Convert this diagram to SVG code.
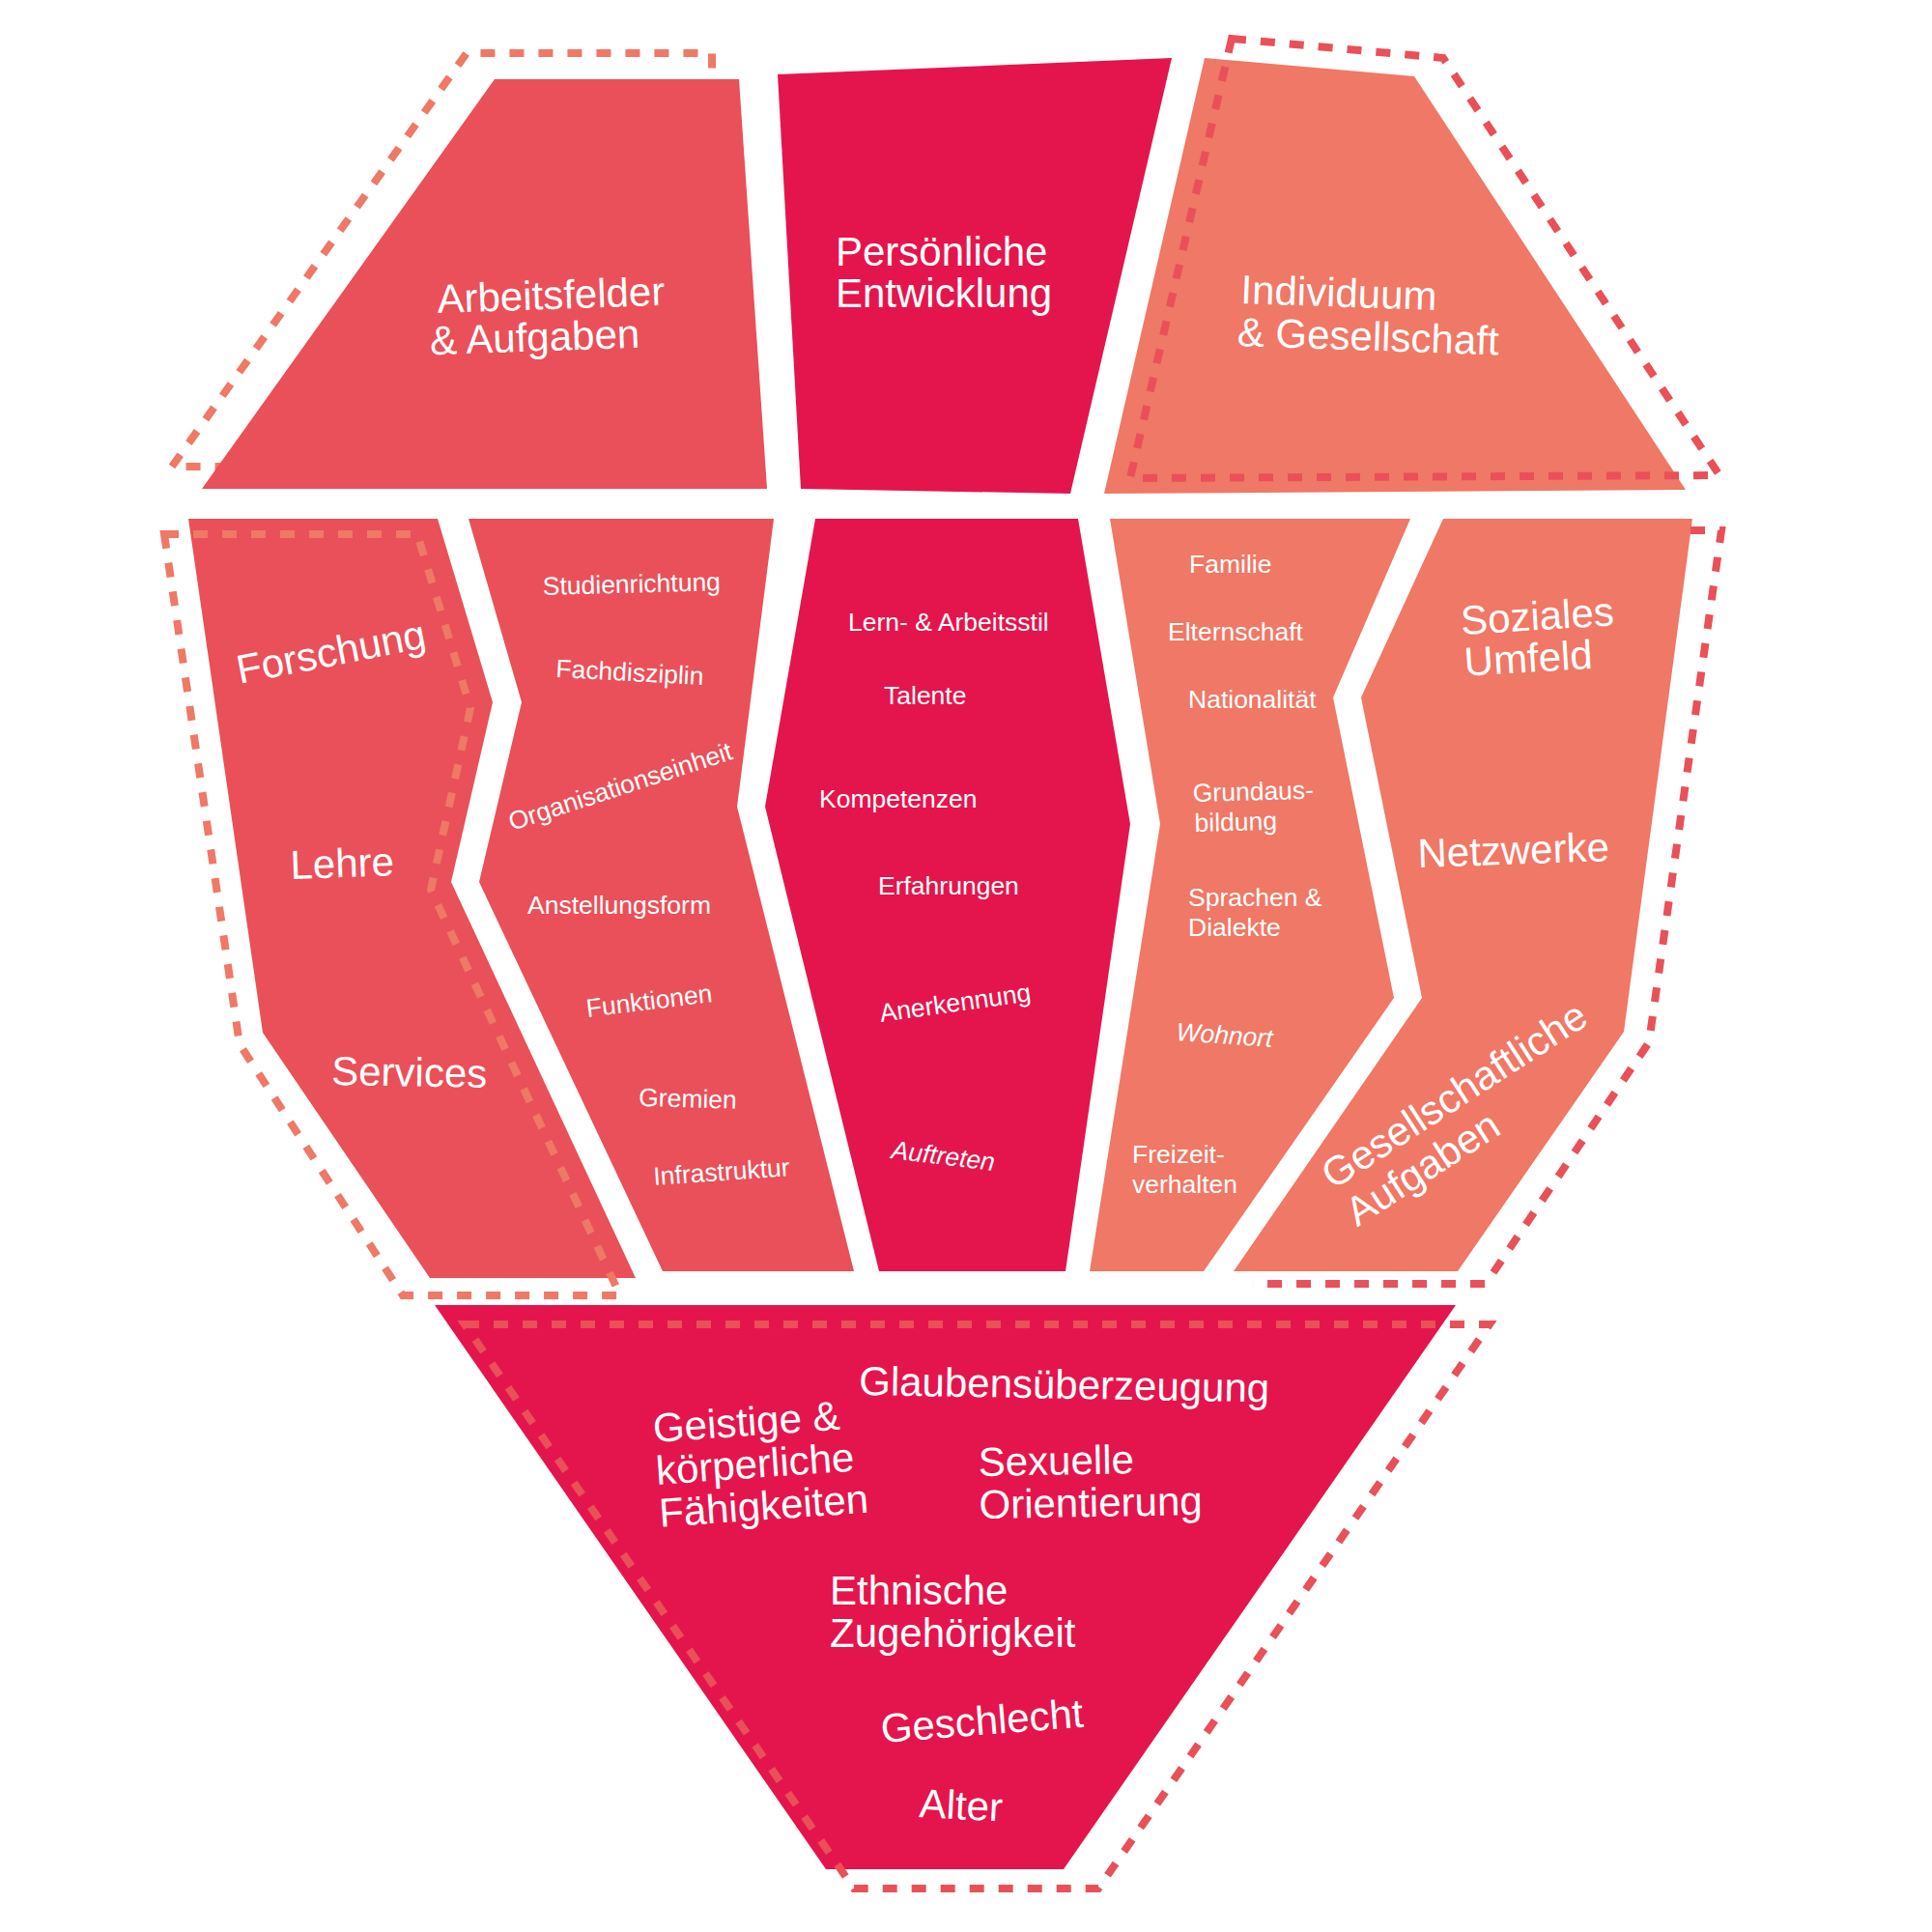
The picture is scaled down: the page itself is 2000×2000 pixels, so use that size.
<svg xmlns="http://www.w3.org/2000/svg" width="2000" height="2000" viewBox="0 0 2000 2000">
<style>
.c1{fill:#E95059}
.c2{fill:#E4154C}
.c3{fill:#EF7866}
.dash{fill:none;stroke-width:8;stroke-dasharray:15 15;stroke-linejoin:miter}
.ds{stroke:#EF7866}
.dr{stroke:#E95059}
text{font-family:"Liberation Sans",Arial,Helvetica,sans-serif;fill:#ffffff}
.big{font-size:42px}
.sm{font-size:26.5px}
.it{font-style:italic}
</style>
<rect width="2000" height="2000" fill="#ffffff"/>
<g id="outlines-under">
<path class="dash ds" d="M178,483 L483,55 L737,55 L740,483 Z"/>
</g>
<g id="node-arbeitsfelder">
<polygon class="c1" points="512,82 765,82 794,506 209,506"/>
<text class="big" transform="translate(453,324) rotate(-2)"><tspan x="0" y="0">Arbeitsfelder</tspan><tspan x="-9" dy="43">&amp; Aufgaben</tspan></text>
</g>
<g id="node-persoenliche">
<polygon class="c2" points="805,77 1213,60 1108,511 829,506"/>
<text class="big"><tspan x="865" y="275">Persönliche</tspan><tspan x="865" dy="43">Entwicklung</tspan></text>
</g>
<g id="node-individuum">
<polygon class="c3" points="1247,60 1464,79 1745,507 1143,511"/>
<text class="big" transform="translate(1284,314) rotate(2)"><tspan x="0" y="0">Individuum</tspan><tspan x="-2" dy="44">&amp; Gesellschaft</tspan></text>
</g>
<g id="node-forschung">
<polygon class="c1" points="195,537 453,537 510,727 467,913 658,1323 445,1323 272,1069"/>
<text class="big" transform="translate(248,708) rotate(-11)">Forschung</text>
<text class="big" transform="translate(301,910) rotate(-2)">Lehre</text>
<text class="big" transform="translate(343,1123) rotate(1)">Services</text>
</g>
<g id="node-organisation">
<polygon class="c1" points="485,537 801,537 763,835 884,1316 686,1316 496,913 540,727"/>
<text class="sm" transform="translate(562,616) rotate(-1.5)">Studienrichtung</text>
<text class="sm" transform="translate(575,701) rotate(3)">Fachdisziplin</text>
<text class="sm" transform="translate(530,860) rotate(-18)">Organisationseinheit</text>
<text class="sm" x="546" y="946">Anstellungsform</text>
<text class="sm" transform="translate(608,1053) rotate(-7)">Funktionen</text>
<text class="sm" transform="translate(661,1145) rotate(1.5)">Gremien</text>
<text class="sm" transform="translate(677,1227) rotate(-4)">Infrastruktur</text>
</g>
<g id="node-persoenlich-details">
<polygon class="c2" points="844,537 1116,537 1170,853 1103,1316 910,1316 792,835"/>
<text class="sm" x="878" y="653">Lern- &amp; Arbeitsstil</text>
<text class="sm" x="915" y="729">Talente</text>
<text class="sm" x="848" y="836">Kompetenzen</text>
<text class="sm" x="909" y="926">Erfahrungen</text>
<text class="sm" transform="translate(912,1058) rotate(-8)">Anerkennung</text>
<text class="sm it" transform="translate(922,1199) rotate(7)">Auftreten</text>
</g>
<g id="node-individuum-details">
<polygon class="c3" points="1149,537 1460,537 1380,722 1443,1033 1246,1316 1128,1316 1201,853"/>
<text class="sm" x="1231" y="593">Familie</text>
<text class="sm" x="1209" y="663">Elternschaft</text>
<text class="sm" x="1230" y="733">Nationalität</text>
<text class="sm" transform="translate(1235,830) rotate(-1.5)"><tspan x="0" y="0">Grundaus-</tspan><tspan x="1" dy="31">bildung</tspan></text>
<text class="sm"><tspan x="1230" y="938">Sprachen &amp;</tspan><tspan x="1230" dy="31">Dialekte</tspan></text>
<text class="sm it" transform="translate(1217,1077) rotate(4)">Wohnort</text>
<text class="sm"><tspan x="1172" y="1204">Freizeit-</tspan><tspan x="1172" dy="31">verhalten</tspan></text>
</g>
<g id="node-soziales">
<polygon class="c3" points="1494,537 1752,537 1681,1068 1509,1316 1277,1316 1472,1033 1409,722"/>
<text class="big" transform="translate(1513,657) rotate(-3.5)"><tspan x="0" y="0">Soziales</tspan><tspan x="1" dy="43">Umfeld</tspan></text>
<text class="big" transform="translate(1468,898) rotate(-2)">Netzwerke</text>
<text class="big" transform="translate(1380,1232) rotate(-33)"><tspan x="0" y="0">Gesellschaftliche</tspan><tspan x="0" dy="46">Aufgaben</tspan></text>
</g>
<g id="node-kern">
<polygon class="c2" points="450,1351 1507,1351 1101,1935 855,1935"/>
<text class="big" transform="translate(889,1444) rotate(1)">Glaubensüberzeugung</text>
<text class="big" transform="translate(677,1493) rotate(-4)"><tspan x="0" y="0">Geistige &amp;</tspan><tspan x="0" dy="44">körperliche</tspan><tspan x="0" dy="44">Fähigkeiten</tspan></text>
<text class="big" transform="translate(1013,1528) rotate(-1)"><tspan x="0" y="0">Sexuelle</tspan><tspan x="0" dy="44">Orientierung</tspan></text>
<text class="big"><tspan x="859" y="1661">Ethnische</tspan><tspan x="859" dy="44">Zugehörigkeit</tspan></text>
<text class="big" transform="translate(913,1804) rotate(-4.5)">Geschlecht</text>
<text class="big" transform="translate(951,1881) rotate(3)">Alter</text>
</g>
<g id="outlines">
<path class="dash ds" d="M170,553 L432,553 L487,733 L446,921 L642,1341 L417,1341 L248,1081 Z"/>
<path class="dash dr" d="M1275,40 L1494,60 L1780,492 L1170,495 Z"/>
<path class="dash dr" d="M1750,549 L1782,549 L1707,1079 L1538,1329 L1297,1329"/>
<path class="dash dr" d="M481,1371 L1542,1371 L1137,1955 L884,1955 Z"/>
</g>
</svg>
